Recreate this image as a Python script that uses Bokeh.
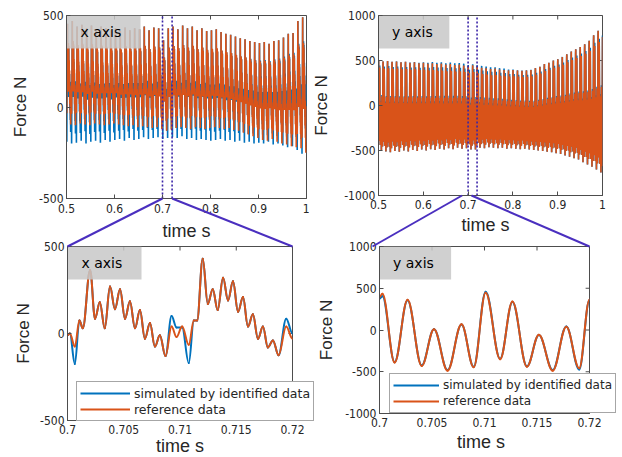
import numpy as np
from bokeh.plotting import figure
from bokeh.layouts import row
from bokeh.models import (Range1d, FixedTicker, Legend, LegendItem, GridBox, ColumnDataSource)
from bokeh.embed import file_html
from bokeh.resources import INLINE
from bokeh.core.properties import value

# ---------------- data ----------------
# zoomed x-axis force 0.70-0.72 s (lower-left panel, local extrema)
zx_time = [0.70000, 0.70021, 0.70065, 0.70106, 0.70136, 0.70201, 0.70245, 0.70287, 0.70331, 0.70378,
           0.70422, 0.70467, 0.70511, 0.70555, 0.70600, 0.70644, 0.70688, 0.70733, 0.70777, 0.70821,
           0.70871, 0.70925, 0.70969, 0.71019, 0.71078, 0.71123, 0.71152, 0.71202, 0.71247, 0.71291,
           0.71335, 0.71383, 0.71427, 0.71471, 0.71516, 0.71560, 0.71604, 0.71648, 0.71693, 0.71737,
           0.71781, 0.71826, 0.71876, 0.71944, 0.72000]
zx_ref = [-10, 0, -75, 75, 30, 365, 85, 180, 30, 270,
          140, 255, 85, 185, 30, 135, -30, 60, -75, -10,
          -130, 40, -20, 40, -65, 75, 75, 430, 170, 255,
          135, 320, 190, 300, 125, 210, 40, 110, -30, 40,
          -80, -40, -125, 40, -30]
zx_sim = [-10, 0, -175, 75, 30, 365, 85, 180, 30, 270,
          140, 255, 85, 185, 30, 135, -30, 60, -75, -10,
          -130, 100, 35, 35, -170, 75, 75, 430, 170, 255,
          135, 320, 190, 300, 125, 210, 40, 110, -30, 40,
          -80, -40, -125, 85, 0]

# zoomed y-axis force 0.70-0.72 s (lower-right panel, local extrema)
zy_time = [0.70000, 0.70028, 0.70144, 0.70267, 0.70402, 0.70519, 0.70648, 0.70781, 0.70897,
           0.71011, 0.71149, 0.71266, 0.71404, 0.71518, 0.71650, 0.71779, 0.71902, 0.72000]
zy_ref = [394, 435, -390, 362, -431, 8, -488, 69, -447,
          447, -350, 341, -439, -57, -488, 40, -459, 366]
zy_sim = [375, 405, -385, 355, -425, 10, -480, 65, -440,
          458, -345, 335, -435, -60, -480, 42, -472, 360]

# start of each 10 ms revolution in the upper panels
cycle_start = [0.50, 0.51, 0.52, 0.53, 0.54, 0.55, 0.56, 0.57, 0.58, 0.59,
               0.60, 0.61, 0.62, 0.63, 0.64, 0.65, 0.66, 0.67, 0.68, 0.69,
               0.70, 0.71, 0.72, 0.73, 0.74, 0.75, 0.76, 0.77, 0.78, 0.79,
               0.80, 0.81, 0.82, 0.83, 0.84, 0.85, 0.86, 0.87, 0.88, 0.89,
               0.90, 0.91, 0.92, 0.93, 0.94, 0.95, 0.96, 0.97, 0.98, 0.99]
# x-axis force: per-revolution peak / trough (upper-left panel)
ref_x_hi = [455, 470, 440, 450, 430, 445, 425, 440, 430, 420,
            430, 415, 435, 420, 430, 425, 440, 420, 435, 430,
            365, 430, 440, 425, 445, 430, 440, 420, 430, 415,
            420, 425, 410, 400, 395, 385, 375, 370, 360, 355,
            350, 355, 345, 360, 365, 380, 400, 405, 470, 490]
ref_x_lo = [-95, -100, -90, -95, -100, -90, -95, -100, -95, -90,
            -95, -100, -105, -100, -110, -105, -110, -115, -110, -120,
            -130, -125, -115, -110, -115, -120, -110, -115, -120, -115,
            -110, -115, -120, -115, -125, -130, -140, -150, -160, -170,
            -180, -185, -175, -190, -200, -205, -215, -220, -225, -250]
sim_x_lo = [-190, -200, -195, -185, -200, -190, -185, -195, -180, -190,
            -180, -175, -185, -170, -180, -175, -165, -175, -170, -165,
            -175, -170, -165, -170, -160, -175, -170, -180, -175, -180,
            -185, -180, -175, -185, -180, -190, -185, -195, -190, -200,
            -195, -200, -190, -205, -200, -210, -220, -215, -235, -255]
# y-axis force: per-revolution peak / trough (upper-right panel)
ref_y_hi = [500, 490, 495, 485, 490, 480, 485, 475, 480, 470,
            475, 465, 470, 460, 465, 455, 460, 450, 455, 445,
            435, 447, 430, 420, 415, 405, 410, 400, 395, 390,
            395, 390, 385, 390, 395, 415, 430, 460, 475, 500,
            515, 540, 570, 600, 626, 650, 681, 720, 780, 830]
sim_y_hi = [500, 490, 495, 485, 490, 480, 485, 478, 482, 475,
            480, 475, 482, 475, 480, 470, 478, 468, 472, 465,
            450, 458, 448, 440, 432, 425, 425, 415, 410, 400,
            400, 392, 388, 392, 396, 415, 430, 460, 475, 500,
            515, 540, 570, 600, 626, 650, 681, 720, 780, 830]
ref_y_lo = [-500, -510, -520, -505, -515, -500, -510, -495, -505, -490,
            -500, -485, -495, -480, -490, -475, -485, -470, -480, -475,
            -488, -488, -470, -475, -465, -470, -475, -470, -480, -475,
            -480, -485, -480, -490, -495, -500, -505, -515, -520, -530,
            -540, -555, -570, -585, -600, -630, -655, -680, -710, -745]

panel_names = ["x axis", "y axis", "x axis", "y axis"]
legend_labels = ["simulated by identified data", "reference data"]
x_label = "time s"
y_label = "Force N"
full_ticks = [0.5, 0.6, 0.7, 0.8, 0.9, 1.0]
full_tick_labels = ["0.5", "0.6", "0.7", "0.8", "0.9", "1"]
zoom_ticks = [0.7, 0.705, 0.71, 0.715, 0.72]
zoom_tick_labels = ["0.7", "0.705", "0.71", "0.715", "0.72"]
fx_ticks = [-500, 0, 500]
fy_ticks = [-1000, -500, 0, 500, 1000]
zoom_window = [0.7, 0.72]

# ---------------- style ----------------
BLUE = "#0072BD"
ORANGE = "#D95319"
AXC = "#4d4d4d"
TXT = "#262626"
LINK = "#4a2fbf"
TICK_FONT = "'Liberation Sans Narrow', 'DejaVu Sans Condensed', 'Liberation Sans', sans-serif"

TOP_H, BOT_H = 240, 217
# every figure in a row keeps the same top / bottom border (rows align frames),
# so the differing frame bottoms are made with the figure heights instead
G_TL = dict(w=309, h=240, left=66, top=15, fw=240, fh=183, xlab=32)
G_TR = dict(w=313, h=237, left=59, top=15, fw=234, fh=180, xlab=29.5)
G_BL = dict(w=314, h=217, left=67, top=6, fw=225, fh=174, xlab=25.5)
G_BR = dict(w=308, h=210, left=58, top=6, fw=217, fh=167, xlab=28.5)


def periodic(tpl_t, tpl_v, lo, hi):
    tt = np.asarray(tpl_t, float) - tpl_t[0]
    vv = np.asarray(tpl_v, float)
    nv = (vv - vv.min()) / (vv.max() - vv.min())
    ts, vs = [], []
    for s, l, h in zip(cycle_start, lo, hi):
        ts.append(s + tt)
        vs.append(l + nv * (h - l))
    ts.append([cycle_start[-1] + 0.01])
    vs.append([lo[-1] + nv[0] * (hi[-1] - lo[-1])])
    return np.concatenate(ts), np.concatenate(vs)


def bez(t, v, k=0.37):
    t = np.asarray(t, float)
    v = np.asarray(v, float)
    d = np.diff(t)
    return ColumnDataSource(dict(x0=t[:-1], y0=v[:-1], x1=t[1:], y1=v[1:],
                                 cx0=t[:-1] + k * d, cy0=v[:-1], cx1=t[1:] - k * d, cy1=v[1:]))


def make_fig(g, xr, yr, xt, xl, yt, tstand, ystand):
    p = figure(width=g["w"], height=g["h"], x_range=Range1d(*xr), y_range=Range1d(*yr),
               toolbar_location=None, output_backend="svg",
               min_border_left=g["left"], min_border_top=g["top"],
               min_border_right=g["w"] - g["left"] - g["fw"],
               min_border_bottom=g["h"] - g["top"] - g["fh"])
    p.grid.visible = False
    p.outline_line_color = AXC
    p.outline_line_width = 1
    p.background_fill_color = "white"
    p.border_fill_color = "white"
    for ax, ticks, labels in ((p.xaxis[0], xt, xl), (p.yaxis[0], yt, [str(v) for v in yt])):
        ax.ticker = FixedTicker(ticks=ticks)
        ax.major_label_overrides = dict(zip(ticks, labels))
        ax.major_tick_in = 4
        ax.major_tick_out = 0
        ax.minor_tick_line_color = None
        ax.axis_line_color = AXC
        ax.major_tick_line_color = AXC
        ax.major_label_text_font = TICK_FONT
        ax.major_label_text_font_size = "12px"
        ax.major_label_text_color = TXT
        ax.major_label_standoff = 3
    p.xaxis.major_label_standoff = tstand
    p.yaxis.axis_label = y_label
    p.yaxis.axis_label_text_font = "Liberation Sans"
    p.yaxis.axis_label_text_font_style = "normal"
    p.yaxis.axis_label_text_color = TXT
    p.yaxis.axis_label_text_font_size = "17px"
    p.yaxis.axis_label_standoff = ystand
    # mirrored inward tick marks on the top and right edges (box on)
    xs = (xr[1] - xr[0]) / g["fw"]
    ys = (yr[1] - yr[0]) / g["fh"]
    p.segment(x0=xt, x1=xt, y0=[yr[1]] * len(xt), y1=[yr[1] - 4 * ys] * len(xt),
              line_color=AXC, line_width=1)
    p.segment(x0=[xr[1]] * len(yt), x1=[xr[1] - 4 * xs] * len(yt), y0=yt, y1=yt,
              line_color=AXC, line_width=1)
    return p


def add_tag(p, g, xr, yr, name):
    xs = (xr[1] - xr[0]) / g["fw"]
    ys = (yr[1] - yr[0]) / g["fh"]
    p.quad(left=[xr[0]], right=[xr[0] + 74 * xs], top=[yr[1]], bottom=[yr[1] - 33 * ys],
           fill_color="#c8c8c8", fill_alpha=0.85, line_color=None)
    p.text(x=[xr[0] + 14 * xs], y=[yr[1] - 16.5 * ys], text=[name],
           text_font=value("DejaVu Sans"), text_font_size="14px", text_color="black",
           text_baseline="middle", text_align="left")


def add_window(p, yr):
    p.segment(x0=zoom_window, y0=[yr[0]] * 2, x1=zoom_window, y1=[yr[1]] * 2,
              line_color="#3a24a8", line_width=1.6, line_dash="2 2")


# ---------- upper left: x axis, 0.5-1 s ----------
XR_F, YR_X, YR_Y = (0.5, 1.0), (-500, 500), (-1000, 1000)
XR_Z = (0.7, 0.72)
tpl_n = sum(1 for t in zx_time if t < 0.71)
tpl_y = sum(1 for t in zy_time if t < 0.71)
LW_TOP = 1.6

p_tl = make_fig(G_TL, XR_F, YR_X, full_ticks, full_tick_labels, fx_ticks, 5, 6)
ts, vs = periodic(zx_time[:tpl_n], zx_sim[:tpl_n], sim_x_lo, ref_x_hi)
p_tl.line(ts, vs, line_color=BLUE, line_width=LW_TOP)
tr_, vr_ = periodic(zx_time[:tpl_n], zx_ref[:tpl_n], ref_x_lo, ref_x_hi)
p_tl.line(tr_, vr_, line_color=ORANGE, line_width=LW_TOP)
add_tag(p_tl, G_TL, XR_F, YR_X, panel_names[0])
add_window(p_tl, YR_X)

# ---------- upper right: y axis, 0.5-1 s ----------
p_tr = make_fig(G_TR, XR_F, YR_Y, full_ticks, full_tick_labels, fy_ticks, 4, 10)
ts, vs = periodic(zy_time[:tpl_y], zy_sim[:tpl_y], ref_y_lo, sim_y_hi)
p_tr.line(ts, vs, line_color=BLUE, line_width=LW_TOP)
tr_, vr_ = periodic(zy_time[:tpl_y], zy_ref[:tpl_y], ref_y_lo, ref_y_hi)
p_tr.line(tr_, vr_, line_color=ORANGE, line_width=LW_TOP)
add_tag(p_tr, G_TR, XR_F, YR_Y, panel_names[1])
add_window(p_tr, YR_Y)

# ---------- lower left: x axis zoom ----------
p_bl = make_fig(G_BL, XR_Z, YR_X, zoom_ticks, zoom_tick_labels, fx_ticks, 4, 4)
bk = dict(x0="x0", y0="y0", x1="x1", y1="y1", cx0="cx0", cy0="cy0", cx1="cx1", cy1="cy1")
p_bl.bezier(source=bez(zx_time, zx_sim), line_color=BLUE, line_width=2, line_cap="round", **bk)
p_bl.bezier(source=bez(zx_time, zx_ref), line_color=ORANGE, line_width=2, line_cap="round", **bk)
add_tag(p_bl, G_BL, XR_Z, YR_X, panel_names[2])

# ---------- lower right: y axis zoom ----------
p_br = make_fig(G_BR, XR_Z, YR_Y, zoom_ticks, zoom_tick_labels, fy_ticks, 4, 6)
p_br.bezier(source=bez(zy_time, zy_sim), line_color=BLUE, line_width=2, line_cap="round", **bk)
p_br.bezier(source=bez(zy_time, zy_ref), line_color=ORANGE, line_width=2, line_cap="round", **bk)
add_tag(p_br, G_BR, XR_Z, YR_Y, panel_names[3])

# ---------- overlay: zoom connectors, time labels and legends ----------
W = G_TL["w"] + G_TR["w"]
H = TOP_H + BOT_H


def fx(g, xoff, xr, t):
    return xoff + g["left"] + (t - xr[0]) / (xr[1] - xr[0]) * g["fw"]


ov = figure(width=W, height=H, x_range=Range1d(0, W), y_range=Range1d(H, 0),
            toolbar_location=None, output_backend="svg",
            x_axis_location=None, y_axis_location=None,
            min_border_left=0, min_border_right=0, min_border_top=0, min_border_bottom=0)
ov.outline_line_color = None
ov.background_fill_alpha = 0
ov.border_fill_alpha = 0
ov.grid.visible = False

x0s, y0s, x1s, y1s = [], [], [], []
for gt, gb, xt_off, xb_off in ((G_TL, G_BL, 0, 0), (G_TR, G_BR, G_TL["w"], G_BL["w"])):
    ytop = gt["top"] + gt["fh"]
    ybot = TOP_H + gb["top"]
    for t, xb in ((zoom_window[0], xb_off + gb["left"]), (zoom_window[1], xb_off + gb["left"] + gb["fw"])):
        x0s.append(fx(gt, xt_off, XR_F, t))
        y0s.append(ytop)
        x1s.append(xb)
        y1s.append(ybot)
ov.segment(x0=x0s, y0=y0s, x1=x1s, y1=y1s, line_color=LINK, line_width=2)

# "time s" axis titles, centred under each frame
lx, ly = [], []
for g, xoff, yoff in ((G_TL, 0, 0), (G_TR, G_TL["w"], 0), (G_BL, 0, TOP_H), (G_BR, G_BL["w"], TOP_H)):
    lx.append(xoff + g["left"] + g["fw"] / 2)
    ly.append(yoff + g["top"] + g["fh"] + g["xlab"])
ov.text(x=lx, y=ly, text=[x_label] * 4, text_font=value("Liberation Sans"),
        text_font_size="18px", text_color=TXT, text_align="center", text_baseline="middle")

# legend samples (same styles as the zoomed curves); their points lie outside the view
l_sim = ov.line(x=[-50, -40], y=[-50, -50], line_color=BLUE, line_width=2)
l_ref = ov.line(x=[-50, -40], y=[-50, -50], line_color=ORANGE, line_width=2)


def add_legend(loc, size, gw):
    lg = Legend(items=[LegendItem(label=legend_labels[0], renderers=[l_sim]),
                       LegendItem(label=legend_labels[1], renderers=[l_ref])],
                location=loc, orientation="vertical",
                label_text_font="DejaVu Sans", label_text_font_size=size,
                label_text_color=TXT, glyph_width=gw, glyph_height=16, label_height=16,
                label_standoff=4, padding=3, spacing=0, margin=0,
                border_line_color=AXC, border_line_width=1,
                background_fill_color="white", background_fill_alpha=1.0)
    ov.add_layout(lg)


bl_bottom = TOP_H + G_BL["top"] + G_BL["fh"]
br_bottom = TOP_H + G_BR["top"] + G_BR["fh"]
add_legend((G_BL["left"] + 9, H - bl_bottom - 1), "12.5px", 50)
add_legend((G_BL["w"] + G_BR["left"] + 17, H - br_bottom), "12px", 46)

top = row(p_tl, p_tr)
bottom = row(p_bl, p_br)
grid = GridBox(children=[(top, 0, 0), (bottom, 1, 0), (ov, 0, 0, 2, 1)], spacing=0)

open("out.html", "w").write(file_html(grid, INLINE))
